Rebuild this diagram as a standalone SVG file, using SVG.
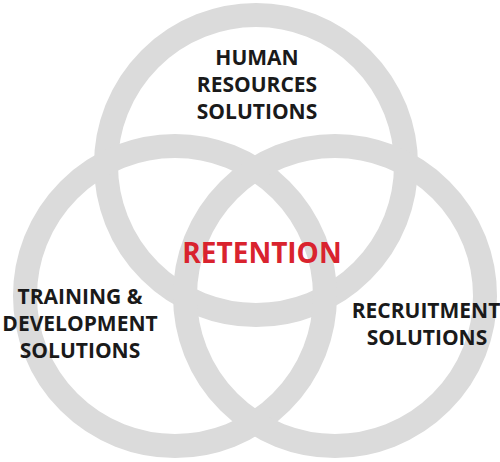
<svg xmlns="http://www.w3.org/2000/svg" width="500" height="462" viewBox="0 0 500 462">
<style>
.ring{fill:none;stroke:#dbdbdb;stroke-width:24}
.lbl{font-family:"Open Sans","Liberation Sans",sans-serif;font-weight:700;font-size:21px;fill:#1a1a1a;text-anchor:middle}
.core{font-family:"Open Sans","Liberation Sans",sans-serif;font-weight:700;font-size:28px;fill:#d9232e;text-anchor:middle}
</style>
<rect width="500" height="462" fill="#ffffff"/>
<g id="hr">
<circle class="ring" cx="256" cy="165" r="150"/>
<text class="lbl" x="257" y="65">HUMAN</text>
<text class="lbl" x="257" y="92">RESOURCES</text>
<text class="lbl" x="257" y="119">SOLUTIONS</text>
</g>
<g id="training">
<circle class="ring" cx="175" cy="296" r="150"/>
<text class="lbl" x="80" y="304">TRAINING &amp;</text>
<text class="lbl" x="80" y="331">DEVELOPMENT</text>
<text class="lbl" x="80" y="358">SOLUTIONS</text>
</g>
<g id="recruitment">
<circle class="ring" cx="335" cy="296" r="150"/>
<text class="lbl" x="426" y="318">RECRUITMENT</text>
<text class="lbl" x="427" y="345">SOLUTIONS</text>
</g>
<g id="retention">
<text class="core" x="262" y="263">RETENTION</text>
</g>
</svg>
